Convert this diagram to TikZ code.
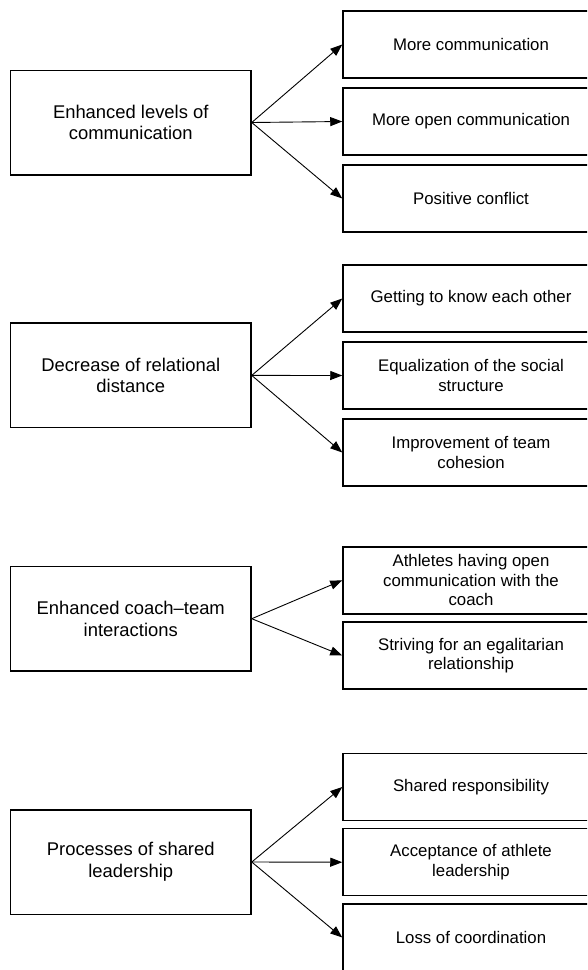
\documentclass[tikz,border=0pt]{standalone}
\usepackage{fontspec}
\setmainfont{Liberation Sans}
\usetikzlibrary{arrows.meta}
\begin{document}
\begin{tikzpicture}[x=1pt,y=-1pt,
  box/.style={draw, line width=1.5pt, inner sep=0pt, align=center},
  leftbox/.style={box, minimum width=240.5pt, minimum height=104.5pt, font=\fontsize{18.4}{21.7}\selectfont},
  rightbox/.style={box, minimum width=256pt, minimum height=67pt, font=\fontsize{16.8}{19.6}\selectfont},
  arr/.style={line width=0.9pt, -{Triangle[length=12pt,width=9pt]}}]
\clip (0,0) rectangle (587,970);
% group 1
\node[leftbox] (L1) at (130.75,122.5) {Enhanced levels of\\communication};
\node[rightbox] (R11) at (471,44.5) {More communication};
\node[rightbox] (R12) at (471,121.5) {More open communication};
\node[rightbox] (R13) at (471,198.5) {Positive conflict};
% group 2
\node[leftbox] (L2) at (130.75,375.4) {Decrease of relational\\distance};
\node[rightbox] (R21) at (471,298.5) {Getting to know each other};
\node[rightbox] (R22) at (471,375.5) {Equalization of the social\\structure};
\node[rightbox] (R23) at (471,452.5) {Improvement of team\\cohesion};
% group 3
\node[leftbox] (L3) at (130.75,618.7) {Enhanced coach–team\\interactions};
\node[rightbox] (R31) at (471,580.3) {Athletes having open\\communication with the\\coach};
\node[rightbox] (R32) at (471,655.5) {Striving for an egalitarian\\relationship};
% group 4
\node[leftbox] (L4) at (130.75,862) {Processes of shared\\leadership};
\node[rightbox] (R41) at (471,787) {Shared responsibility};
\node[rightbox] (R42) at (471,862.2) {Acceptance of athlete\\leadership};
\node[rightbox] (R43) at (471,937.5) {Loss of coordination};
% arrows
\draw[arr] (L1.east) -- (R11.west);
\draw[arr] (L1.east) -- (R12.west);
\draw[arr] (L1.east) -- (R13.west);
\draw[arr] (L2.east) -- (R21.west);
\draw[arr] (L2.east) -- (R22.west);
\draw[arr] (L2.east) -- (R23.west);
\draw[arr] (L3.east) -- (R31.west);
\draw[arr] (L3.east) -- (R32.west);
\draw[arr] (L4.east) -- (R41.west);
\draw[arr] (L4.east) -- (R42.west);
\draw[arr] (L4.east) -- (R43.west);
\end{tikzpicture}
\end{document}
